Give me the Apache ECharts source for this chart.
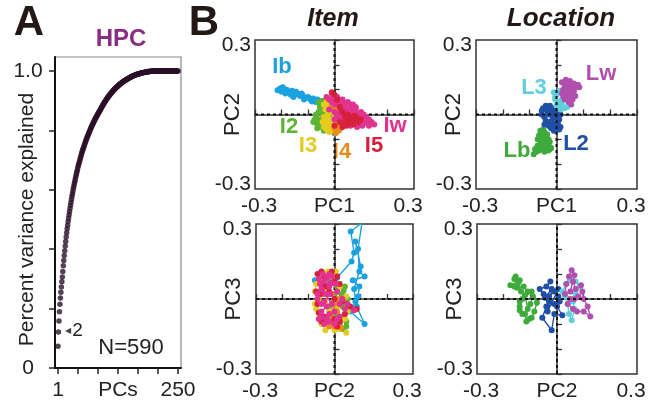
<!DOCTYPE html>
<html>
<head>
<meta charset="utf-8">
<script src="https://cdn.jsdelivr.net/npm/echarts@6/dist/echarts.min.js"></script>
<style>
html,body{margin:0;padding:0;background:#fff;}
#chart{width:649px;height:404px;}
</style>
</head>
<body>
<div id="chart"></div>
<script>
// panel A : cumulative variance per PC (PC1..PC250)
var cumVar = [
  0.073,0.121,0.158,0.189,0.215,0.236,0.255,0.273,0.290,0.306,
  0.325,0.344,0.362,0.379,0.395,0.411,0.426,0.441,0.455,0.469,
  0.481,0.493,0.505,0.516,0.527,0.538,0.548,0.558,0.568,0.578,
  0.587,0.596,0.605,0.613,0.621,0.629,0.637,0.645,0.652,0.659,
  0.666,0.673,0.680,0.686,0.692,0.698,0.704,0.710,0.716,0.722,
  0.727,0.732,0.737,0.742,0.747,0.752,0.757,0.762,0.766,0.770,
  0.775,0.779,0.783,0.787,0.791,0.795,0.799,0.803,0.807,0.811,
  0.814,0.818,0.821,0.825,0.828,0.831,0.835,0.838,0.841,0.844,
  0.847,0.850,0.853,0.856,0.859,0.862,0.864,0.867,0.870,0.873,
  0.876,0.879,0.882,0.885,0.888,0.890,0.893,0.896,0.898,0.901,
  0.903,0.906,0.908,0.910,0.913,0.915,0.917,0.919,0.921,0.923,
  0.925,0.927,0.929,0.931,0.933,0.935,0.937,0.938,0.940,0.942,
  0.943,0.945,0.946,0.948,0.949,0.951,0.952,0.954,0.955,0.956,
  0.958,0.959,0.960,0.961,0.963,0.964,0.965,0.966,0.967,0.968,
  0.969,0.970,0.971,0.972,0.973,0.974,0.975,0.976,0.977,0.978,
  0.979,0.980,0.981,0.981,0.982,0.983,0.984,0.984,0.985,0.986,
  0.986,0.987,0.988,0.988,0.989,0.989,0.990,0.990,0.991,0.991,
  0.992,0.992,0.993,0.993,0.993,0.994,0.994,0.995,0.995,0.995,
  0.996,0.996,0.996,0.997,0.997,0.997,0.997,0.998,0.998,0.998,
  0.998,0.998,0.999,0.999,0.999,0.999,0.999,0.999,1.000,1.000,
  1,1,1,1,1,1,1,1,1,1,
  1,1,1,1,1,1,1,1,1,1,
  1,1,1,1,1,1,1,1,1,1,
  1,1,1,1,1,1,1,1,1,1,
  1,1,1,1,1,1,1,1,1,1
];
var yTicksA = ['0', '1.0'];
var xTicksA = ['1', '250'];
var pcTicks = ['-0.3', '0.3'];

// Item, PC1 x PC2
var ibPc12 = [[-0.215,0.098],[-0.205,0.105],[-0.2,0.092],[-0.195,0.11],[-0.185,0.085],[-0.18,0.1],[-0.17,0.09],[-0.165,0.08],[-0.16,0.096],[-0.15,0.08],[-0.145,0.092],[-0.155,0.07],[-0.14,0.085],[-0.13,0.075],[-0.125,0.085],[-0.12,0.078],[-0.115,0.06],[-0.11,0.066],[-0.1,0.07],[-0.095,0.065],[-0.09,0.06],[-0.085,0.052],[-0.08,0.064],[-0.07,0.05],[-0.065,0.06],[-0.06,0.055],[-0.055,0.04],[-0.05,0.045],[-0.04,0.04],[-0.03,0.03],[-0.02,0.01],[-0.01,-0.02],[0.0,-0.05],[0.0,-0.075],[-0.015,-0.03]];
var i2Pc12 = [[-0.06,0.05],[-0.045,0.055],[-0.05,0.04],[-0.055,0.03],[-0.04,0.02],[-0.06,0.01],[-0.07,0.0],[-0.07,-0.01],[-0.075,-0.02],[-0.08,-0.03],[-0.06,-0.035],[-0.065,-0.055],[-0.05,-0.05],[-0.045,-0.04],[-0.04,-0.065],[-0.035,-0.06],[-0.03,-0.04],[-0.025,-0.045],[-0.04,-0.02],[-0.025,-0.01],[-0.045,0.0],[-0.055,-0.02],[-0.065,-0.04],[-0.03,-0.055],[-0.02,-0.03],[-0.035,0.01]];
var i3Pc12 = [[-0.03,0.05],[-0.04,0.04],[-0.02,0.04],[-0.025,0.025],[-0.035,0.02],[-0.025,0.0],[-0.04,-0.01],[-0.035,-0.02],[-0.02,-0.02],[-0.03,-0.04],[-0.04,-0.05],[-0.015,-0.05],[-0.02,-0.07],[-0.005,-0.065],[0.0,-0.06],[-0.01,-0.035],[0.01,-0.04],[-0.005,-0.02],[0.0,0.0],[-0.015,0.01],[0.005,0.02],[-0.01,0.03],[-0.03,-0.06],[-0.045,-0.03]];
var i4Pc12 = [[-0.02,0.06],[-0.01,0.04],[-0.005,0.03],[0.0,0.02],[0.02,0.03],[0.01,0.0],[0.02,-0.02],[0.01,-0.025],[0.01,-0.04],[0.025,-0.05],[0.02,-0.06],[0.015,-0.065],[0.005,-0.075],[0.0,-0.055],[0.03,-0.03],[0.03,-0.01],[0.02,0.01],[0.005,-0.01]];
var i5Pc12 = [[-0.01,0.09],[0.0,0.08],[0.01,0.06],[0.02,0.03],[0.03,0.01],[0.05,0.0],[0.06,-0.01],[0.075,-0.005],[0.085,-0.015],[0.1,-0.02],[0.09,-0.03],[0.075,-0.025],[0.07,-0.04],[0.055,-0.035],[0.05,-0.02],[0.04,-0.01],[0.035,-0.035],[0.02,-0.03],[0.0,-0.045],[0.03,-0.05],[0.045,-0.045],[0.065,-0.02]];
var iwPc12 = [[-0.03,0.07],[-0.02,0.06],[-0.01,0.085],[-0.01,0.05],[0.0,0.06],[0.01,0.07],[0.02,0.05],[0.015,0.045],[0.03,0.06],[0.035,0.035],[0.04,0.045],[0.05,0.05],[0.06,0.04],[0.07,0.04],[0.08,0.03],[0.06,0.02],[0.055,0.015],[0.04,0.01],[0.02,0.03],[0.0,0.04],[-0.02,0.02],[0.0,0.01],[0.01,0.0],[0.02,-0.01],[0.03,-0.01],[0.0,-0.02],[0.04,-0.02],[0.05,-0.02],[0.06,-0.03],[0.07,-0.01],[0.075,0.005],[0.09,0.0],[0.095,-0.01],[0.1,0.01],[0.11,0.0],[0.1,-0.02],[0.12,-0.01],[0.12,-0.03],[0.13,-0.02],[0.14,-0.03],[0.15,-0.04],[0.13,-0.045],[0.11,-0.035],[0.105,-0.045],[0.09,-0.04],[0.085,-0.05],[0.08,-0.02],[0.07,-0.03],[0.06,-0.045],[0.05,-0.04],[0.03,-0.03],[0.02,0.01],[0.04,0.03],[0.06,0.0],[0.08,0.02]];

// Location, PC1 x PC2
var lbPc12 = [[-0.06,-0.065],[-0.05,-0.06],[-0.045,-0.07],[-0.035,-0.08],[-0.04,-0.09],[-0.05,-0.09],[-0.065,-0.085],[-0.06,-0.1],[-0.07,-0.1],[-0.055,-0.11],[-0.04,-0.1],[-0.045,-0.115],[-0.03,-0.12],[-0.035,-0.13],[-0.025,-0.14],[-0.04,-0.135],[-0.055,-0.13],[-0.06,-0.12],[-0.07,-0.125],[-0.075,-0.135],[-0.08,-0.14],[-0.085,-0.16],[-0.075,-0.15],[-0.065,-0.145],[-0.045,-0.15],[-0.03,-0.145],[-0.02,-0.135],[-0.025,-0.11],[-0.03,-0.1],[-0.05,-0.075]];
var l2Pc12 = [[-0.05,0.025],[-0.04,0.035],[-0.035,0.03],[-0.025,0.035],[-0.02,0.02],[-0.005,0.015],[0.01,0.005],[0.0,-0.01],[-0.015,-0.005],[-0.03,0.0],[-0.035,0.015],[-0.045,-0.01],[-0.055,0.0],[-0.055,0.015],[-0.04,-0.025],[-0.045,-0.04],[-0.025,-0.03],[-0.01,-0.04],[0.005,-0.035],[0.015,-0.05],[0.01,-0.06],[0.0,-0.06],[-0.02,-0.055],[-0.01,-0.065],[-0.03,-0.045],[-0.015,-0.02],[0.01,-0.02],[0.015,0.0],[-0.02,0.0],[-0.01,0.025]];
var l3Pc12 = [[-0.01,0.09],[0.0,0.08],[-0.005,0.07],[-0.005,0.06],[0.01,0.05],[0.005,0.04],[0.02,0.04],[0.03,0.025],[0.04,0.03],[0.015,0.02],[0.0,0.035],[0.02,0.06],[0.03,0.07],[0.01,0.095],[0.025,0.1]];
var lwPc12 = [[0.02,0.13],[0.035,0.14],[0.05,0.135],[0.065,0.125],[0.08,0.12],[0.085,0.11],[0.07,0.11],[0.055,0.1],[0.04,0.11],[0.025,0.1],[0.02,0.085],[0.03,0.09],[0.035,0.08],[0.045,0.085],[0.05,0.07],[0.06,0.085],[0.07,0.075],[0.065,0.095],[0.06,0.06],[0.05,0.055],[0.045,0.05],[0.03,0.06],[0.04,0.07],[0.04,0.09],[0.05,0.095],[0.045,0.12],[0.03,0.12],[0.06,0.115],[0.025,0.075],[0.055,0.04]];

// Item, PC2 x PC3
var ibPc23 = [[-0.075,0.075],[-0.07,0.065],[0.01,0.085],[0.065,0.15],[0.075,0.185],[0.062,0.27],[0.105,0.305],[0.09,0.2],[0.095,0.11],[0.115,0.09],[0.07,0.075],[0.095,0.05],[0.09,0.01],[0.085,-0.03],[0.115,-0.1],[0.06,-0.05],[0.08,-0.01],[0.075,0.04],[0.1,0.13],[0.08,0.23]];
var i2Pc23 = [[-0.02,0.06],[0.01,0.05],[0.04,0.05],[0.03,0.02],[0.05,0.0],[0.04,-0.02],[0.05,-0.045],[0.035,-0.07],[0.045,-0.11],[0.03,-0.12],[0.02,-0.1],[0.0,-0.06],[0.02,-0.02],[0.0,0.02],[-0.02,-0.03],[0.03,-0.03],[0.035,0.035],[0.045,-0.09]];
var i3Pc23 = [[-0.025,0.11],[-0.045,0.105],[-0.05,0.09],[-0.07,0.06],[-0.075,0.03],[-0.06,0.0],[-0.075,-0.02],[-0.07,-0.04],[-0.06,-0.08],[-0.05,-0.1],[-0.035,-0.125],[-0.01,-0.1],[0.0,-0.125],[0.02,-0.12],[0.045,-0.135],[0.04,-0.08],[0.05,-0.05],[0.045,0.01],[0.02,0.05],[0.0,0.09],[-0.04,0.05],[-0.02,-0.05],[0.01,-0.03],[0.005,0.11]];
var i4Pc23 = [[-0.03,0.05],[-0.01,0.02],[0.0,-0.02],[-0.015,-0.07],[-0.005,-0.095],[0.0,-0.11],[0.02,-0.09],[0.025,-0.115],[0.01,-0.05],[-0.03,-0.09],[-0.02,-0.11],[0.015,0.0]];
var i5Pc23 = [[-0.065,0.1],[-0.05,0.11],[-0.04,0.09],[-0.01,0.11],[0.0,0.07],[0.01,0.09],[-0.03,0.05],[-0.05,0.02],[-0.065,-0.02],[-0.07,0.03],[-0.06,-0.055],[-0.04,-0.07],[-0.05,-0.09],[-0.025,-0.09],[0.0,-0.08],[0.02,-0.09],[0.01,-0.11],[0.04,-0.06],[0.085,-0.04],[0.06,-0.03],[0.03,-0.01],[0.0,0.0],[-0.02,0.03],[-0.045,0.06],[0.02,0.06]];
var iwPc23 = [[-0.06,0.08],[-0.045,0.1],[-0.03,0.085],[-0.02,0.1],[-0.01,0.09],[0.005,0.06],[-0.02,0.05],[-0.05,0.04],[-0.065,0.02],[-0.065,0.0],[-0.04,-0.01],[-0.05,-0.02],[-0.015,0.02],[0.01,0.03],[0.03,0.0],[0.075,-0.045],[0.05,-0.02],[0.04,-0.04],[0.02,-0.02],[0.0,-0.05],[-0.02,-0.06],[-0.03,-0.03],[-0.05,-0.05],[-0.06,-0.08],[-0.05,-0.07],[-0.04,-0.1],[-0.03,-0.08],[-0.02,-0.09],[0.0,-0.1],[0.01,-0.08],[0.02,-0.07],[-0.01,-0.02],[-0.035,0.02],[-0.055,0.06],[-0.04,0.07],[-0.015,0.065]];

// Location, PC2 x PC3
var lbPc23 = [[-0.155,0.09],[-0.14,0.075],[-0.175,0.055],[-0.16,0.05],[-0.15,0.045],[-0.125,0.05],[-0.11,0.03],[-0.095,0.03],[-0.13,0.0],[-0.14,-0.01],[-0.14,-0.03],[-0.14,-0.045],[-0.13,-0.06],[-0.12,-0.06],[-0.115,-0.09],[-0.105,-0.08],[-0.095,-0.075],[-0.085,-0.05],[-0.075,-0.015],[-0.09,0.01],[-0.1,-0.02],[-0.11,-0.04],[-0.12,0.015],[-0.135,0.03],[-0.145,0.065],[-0.16,0.08]];
var l2Pc23 = [[-0.025,0.07],[-0.04,0.05],[-0.065,0.04],[-0.05,0.02],[-0.03,0.01],[-0.01,0.03],[0.005,0.01],[0.01,-0.01],[-0.01,-0.02],[-0.04,-0.03],[-0.055,-0.075],[-0.02,-0.125],[-0.01,-0.06],[0.02,-0.065],[0.0,-0.03],[-0.03,-0.01],[-0.045,0.005],[-0.02,0.04],[-0.035,-0.05],[0.005,0.04]];
var l3Pc23 = [[0.02,0.03],[0.035,0.06],[0.05,0.075],[0.07,0.07],[0.085,0.05],[0.07,0.02],[0.06,-0.01],[0.065,-0.04],[0.055,-0.085],[0.045,-0.06],[0.04,-0.02],[0.03,0.01]];
var lwPc23 = [[0.055,0.115],[0.045,0.09],[0.035,0.06],[0.03,0.02],[0.05,0.0],[0.04,-0.02],[0.06,-0.04],[0.075,-0.05],[0.1,-0.05],[0.125,-0.07],[0.115,-0.03],[0.1,0.0],[0.095,0.03],[0.09,0.055],[0.07,0.04],[0.06,0.07],[0.065,0.095],[0.05,0.03],[0.08,0.01],[0.065,0.0]];

var zeroV = [[0,-0.3],[0,0.3]];
var zeroH = [[-0.3,0],[0.3,0]];

var F = "'Liberation Sans', Arial, Helvetica, sans-serif";
var C = {ib:'#1ba1e0', i2:'#5cb432', i3:'#e3cb20', i4:'#e98b1c', i5:'#d7203b', iw:'#e1338f',
         lb:'#3faa3c', l2:'#1f4fa6', l3:'#5fcfdc', lw:'#b14fae'};

var myChart = echarts.init(document.getElementById('chart'));

function pcX(g, name) {
  return {
    type:'value', gridIndex:g, min:-0.3, max:0.3, interval:0.1,
    name:name, nameLocation:'middle', nameGap:7, nameMoveOverlap:false,
    nameTextStyle:{color:'#222', fontSize:21, fontFamily:F, verticalAlign:'top'},
    axisLine:{show:true, lineStyle:{color:'#333', width:1.5}},
    axisTick:{show:true, inside:true, length:5, lineStyle:{color:'#333', width:1.3}},
    splitLine:{show:false},
    axisLabel:{
      margin:7, color:'#222', fontSize:21, fontFamily:F,
      formatter:function(v) {
        if (v < -0.29) return '{lo|' + pcTicks[0] + '}';
        if (v > 0.29) return '{hi|' + pcTicks[1] + '}';
        return '';
      },
      rich:{
        lo:{fontSize:21, fontFamily:F, color:'#222', padding:[0,0,0,8]},
        hi:{fontSize:21, fontFamily:F, color:'#222', padding:[0,12,0,0]}
      }
    }
  };
}
function pcY(g, name) {
  return {
    type:'value', gridIndex:g, min:-0.3, max:0.3, interval:0.1,
    name:name, nameLocation:'middle', nameGap:11, nameMoveOverlap:false,
    nameTextStyle:{color:'#222', fontSize:22, fontFamily:F},
    axisLine:{show:true, lineStyle:{color:'#333', width:1.5}},
    axisTick:{show:true, inside:true, length:5, lineStyle:{color:'#333', width:1.3}},
    splitLine:{show:false},
    axisLabel:{
      margin:4, color:'#222', fontSize:21, fontFamily:F,
      formatter:function(v) {
        if (v < -0.29) return '{lo|' + pcTicks[0] + '}';
        if (v > 0.29) return '{hi|' + pcTicks[1] + '}';
        return '';
      },
      rich:{
        lo:{fontSize:21, fontFamily:F, color:'#222', padding:[0,0,10,0]},
        hi:{fontSize:21, fontFamily:F, color:'#222', padding:[10,0,0,0]}
      }
    }
  };
}
function traj(pts, color, g) {
  return {
    type:'line', xAxisIndex:g, yAxisIndex:g, data:pts,
    symbol:'circle', symbolSize:6, showSymbol:true, smooth:false,
    lineStyle:{color:color, width:1.4}, itemStyle:{color:color},
    z:3, silent:true, animation:false
  };
}
function zeroLine(pts, g, z) {
  return {
    type:'line', xAxisIndex:g, yAxisIndex:g, data:pts, symbol:'none',
    lineStyle:{color:'#111', width:2, type:[3,3]}, z:z, silent:true, animation:false
  };
}
function lab(text, x, y, color) {
  return {type:'text', x:x, y:y, silent:true,
    style:{text:text, fill:color, font:'bold 22px ' + F, align:'center', verticalAlign:'middle'}};
}
function txt(text, x, y, size, weight, color, style) {
  return {type:'text', x:x, y:y, silent:true,
    style:{text:text, fill:color, font:(style || '') + ' ' + weight + ' ' + size + 'px ' + F, align:'center', verticalAlign:'middle'}};
}

var option = {
  backgroundColor:'#fff',
  animation:false,
  grid:[
    // A frame
    {left:55, top:57, width:126, height:311, show:true, borderColor:'#888', borderWidth:1.2, outerBoundsMode:'none'},
    // A ticks + data
    {left:58, top:71, width:120, height:297, outerBoundsMode:'none'},
    {left:255, top:40, width:159, height:149, show:true, borderColor:'#333', borderWidth:1.5, outerBoundsMode:'none'},
    {left:476, top:40, width:161, height:149, show:true, borderColor:'#333', borderWidth:1.5, outerBoundsMode:'none'},
    {left:256, top:224, width:157, height:150, show:true, borderColor:'#333', borderWidth:1.5, outerBoundsMode:'none'},
    {left:477, top:224, width:160, height:150, show:true, borderColor:'#333', borderWidth:1.5, outerBoundsMode:'none'}
  ],
  xAxis:[
    {type:'value', gridIndex:0, min:0, max:1, axisLine:{show:true, lineStyle:{color:'#111', width:2}},
      axisTick:{show:false}, axisLabel:{show:false}, splitLine:{show:false}},
    {type:'value', gridIndex:1, min:1, max:250, interval:41.5,
      name:'PCs', nameLocation:'middle', nameGap:12, nameMoveOverlap:false,
      nameTextStyle:{color:'#222', fontSize:21, fontFamily:F, verticalAlign:'top'},
      axisLine:{show:false}, splitLine:{show:false},
      axisTick:{show:true, inside:false, length:6, lineStyle:{color:'#222', width:1.5}},
      axisLabel:{margin:12, color:'#222', fontSize:21, fontFamily:F,
        formatter:function(v) {
          if (Math.abs(v - 1) < 0.01) return xTicksA[0];
          if (Math.abs(v - 250) < 0.01) return xTicksA[1];
          return '';
        }}},
    pcX(2, 'PC1'), pcX(3, 'PC1'), pcX(4, 'PC2'), pcX(5, 'PC2')
  ],
  yAxis:[
    {type:'value', gridIndex:0, min:0, max:1, axisLine:{show:true, lineStyle:{color:'#111', width:2}},
      axisTick:{show:false}, axisLabel:{show:false}, splitLine:{show:false}},
    {type:'value', gridIndex:1, min:0, max:1, interval:0.2, offset:3,
      name:'Percent variance explained', nameLocation:'middle', nameGap:17, nameMoveOverlap:false,
      nameTextStyle:{color:'#222', fontSize:21, fontFamily:F},
      axisLine:{show:false}, splitLine:{show:false},
      axisTick:{show:true, inside:false, length:6, lineStyle:{color:'#222', width:1.5}},
      axisLabel:{margin:27, align:'center', color:'#222', fontSize:21, fontFamily:F,
        formatter:function(v) {
          if (v < 0.01) return yTicksA[0];
          if (v > 0.99) return yTicksA[1];
          return '';
        }}},
    pcY(2, 'PC2'), pcY(3, 'PC2'), pcY(4, 'PC3'), pcY(5, 'PC3')
  ],
  series:[
    {type:'scatter', xAxisIndex:1, yAxisIndex:1, symbolSize:5.5, clip:false,
      itemStyle:{color:'#2c1028'}, silent:true,
      data:cumVar.map(function(v, i) { return [i + 1, v]; })},

    // item PC1/PC2 : red drawn over pink here
    zeroLine(zeroV, 2, 1), zeroLine(zeroH, 2, 1),
    traj(ibPc12, C.ib, 2), traj(i2Pc12, C.i2, 2), traj(i3Pc12, C.i3, 2),
    traj(i4Pc12, C.i4, 2), traj(iwPc12, C.iw, 2), traj(i5Pc12, C.i5, 2),

    traj(lbPc12, C.lb, 3), traj(l2Pc12, C.l2, 3), traj(l3Pc12, C.l3, 3), traj(lwPc12, C.lw, 3),
    zeroLine(zeroV, 3, 5), zeroLine(zeroH, 3, 5),

    zeroLine(zeroV, 4, 1), zeroLine(zeroH, 4, 1),
    traj(ibPc23, C.ib, 4), traj(i2Pc23, C.i2, 4), traj(i3Pc23, C.i3, 4),
    traj(i4Pc23, C.i4, 4), traj(i5Pc23, C.i5, 4), traj(iwPc23, C.iw, 4),

    traj(lbPc23, C.lb, 5), traj(l2Pc23, C.l2, 5), traj(l3Pc23, C.l3, 5), traj(lwPc23, C.lw, 5),
    zeroLine(zeroV, 5, 5), zeroLine(zeroH, 5, 5)
  ],
  graphic:[
    txt('A', 29, 23, 42, 'bold', '#231815'),
    txt('B', 204, 23, 42, 'bold', '#231815'),
    txt('HPC', 121, 39, 24, 'bold', '#8a2e82'),
    txt('Item', 333, 19, 25, 'bold', '#231815', 'italic'),
    txt('Location', 561, 19, 26, 'bold', '#231815', 'italic'),
    txt('N=590', 131, 348, 22, 'normal', '#222'),
    {type:'text', x:65, y:331, silent:true,
      style:{text:'{t|\u25C0}{n|2}', verticalAlign:'middle', align:'left',
        rich:{t:{fontSize:8, fontFamily:"DejaVu Sans", fill:'#444', padding:[0,1,0,0]}, n:{fontSize:19, fontFamily:F, fill:'#222'}}}},
    lab('Ib', 282, 67, C.ib), lab('I2', 289, 127, C.i2), lab('I3', 308, 146, C.i3),
    lab('I4', 342, 152, C.i4), lab('I5', 374, 146, C.i5), lab('Iw', 395, 126, C.iw),
    lab('L3', 534, 88, C.l3), lab('Lw', 601, 74, C.lw), lab('Lb', 517, 151, C.lb), lab('L2', 576, 144, C.l2)
  ]
};
myChart.setOption(option);
</script>
</body>
</html>
